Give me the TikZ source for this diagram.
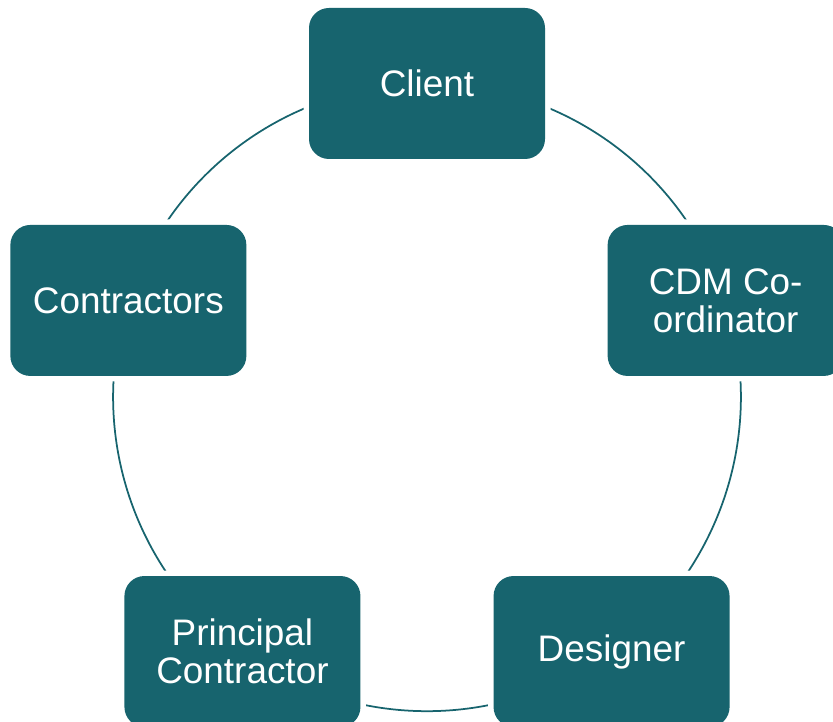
\documentclass[tikz,border=0pt]{standalone}
\usepackage{fontspec}
\setmainfont{Liberation Sans}
\usepackage{tikz}
\usetikzlibrary{calc}
\usetikzlibrary{backgrounds}
\definecolor{cyclefill}{RGB}{23,100,110}
\tikzstyle{box}=[rectangle,rounded corners=0.4cm,fill=cyclefill,
  minimum width=4.72cm,minimum height=3.02cm,inner sep=0pt,
  text=white,align=center,font=\fontsize{21}{21.6}\selectfont,
  preaction={draw=white,line width=0.22cm}]
\tikzstyle{link}=[draw=cyclefill,line width=0.035cm,bend left=36,looseness=0.94]
\tikzset{every picture/.style={
    line width=1
  }
}

\begin{document}
\begin{tikzpicture}
            \useasboundingbox (0,0) rectangle (16.66,14.44);
            \coordinate (mid) at (8.54,6.49);
            \node[box] (client) at ($(mid)+(90:6.28)$) {Client};
            \node[box] (cdm) at ($(mid)+(18:6.28)$) {CDM Co-\\ordinator};
            \node[box] (designer) at ($(mid)+(-54:6.28)$) {Designer};
            \node[box] (principal) at ($(mid)+(-126:6.28)$) {Principal\\Contractor};
            \node[box] (contractors) at ($(mid)+(162:6.28)$) {Contractors};
            \begin{scope}[on background layer]
              \draw[link] (client.center) to (cdm.center);
              \draw[link] (cdm.center) to (designer.center);
              \draw[link] (designer.center) to (principal.center);
              \draw[link] (principal.center) to (contractors.center);
              \draw[link] (contractors.center) to (client.center);
            \end{scope}
          \end{tikzpicture}
\end{document}
